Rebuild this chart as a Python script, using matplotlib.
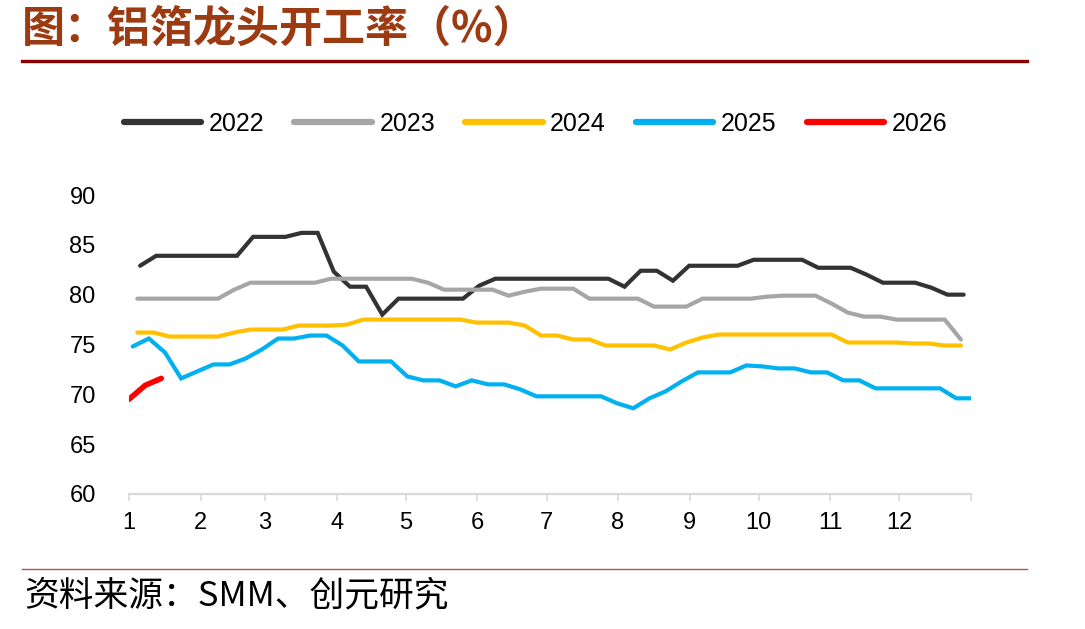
import matplotlib
matplotlib.use('Agg')
import matplotlib.pyplot as plt
import numpy as np
from matplotlib.lines import Line2D

plt.rcParams['font.family'] = ['Liberation Sans', 'DejaVu Sans']

# weekly operating rate (%), x = day of year of each weekly reading
years = ['2022', '2023', '2024', '2025', '2026']
start_day = {'2022': 4.8, '2023': 3.6, '2024': 3.6, '2025': 1.6, '2026': 0.0}

v2022 = [82.9, 83.9, 83.9, 83.9, 83.9, 83.9, 83.9, 85.8, 85.8, 85.8,
         86.2, 86.2, 82.3, 80.8, 80.8, 78.0, 79.6, 79.6, 79.6, 79.6,
         79.6, 80.9, 81.6, 81.6, 81.6, 81.6, 81.6, 81.6, 81.6, 81.6,
         80.8, 82.4, 82.4, 81.4, 82.9, 82.9, 82.9, 82.9, 83.5, 83.5,
         83.5, 83.5, 82.7, 82.7, 82.7, 82.0, 81.2, 81.2, 81.2, 80.7,
         80.0, 80.0]
v2023 = [79.6, 79.6, 79.6, 79.6, 79.6, 79.6, 80.5, 81.2, 81.2, 81.2,
         81.2, 81.2, 81.6, 81.6, 81.6, 81.6, 81.6, 81.6, 81.2, 80.5,
         80.5, 80.5, 80.5, 79.9, 80.3, 80.6, 80.6, 80.6, 79.6, 79.6,
         79.6, 79.6, 78.8, 78.8, 78.8, 79.6, 79.6, 79.6, 79.6, 79.8,
         79.9, 79.9, 79.9, 79.1, 78.2, 77.8, 77.8, 77.5, 77.5, 77.5,
         77.5, 75.5]
v2024 = [76.2, 76.2, 75.8, 75.8, 75.8, 75.8, 76.2, 76.5, 76.5, 76.5,
         76.9, 76.9, 76.9, 77.0, 77.5, 77.5, 77.5, 77.5, 77.5, 77.5,
         77.5, 77.2, 77.2, 77.2, 76.9, 75.9, 75.9, 75.5, 75.5, 74.9,
         74.9, 74.9, 74.9, 74.5, 75.2, 75.7, 76.0, 76.0, 76.0, 76.0,
         76.0, 76.0, 76.0, 76.0, 75.2, 75.2, 75.2, 75.2, 75.1, 75.1,
         74.9, 74.9]
v2025 = [74.8, 75.6, 74.2, 71.6, 72.3, 73.0, 73.0, 73.6, 74.5, 75.6,
         75.6, 75.9, 75.9, 74.9, 73.3, 73.3, 73.3, 71.8, 71.4, 71.4,
         70.8, 71.4, 71.0, 71.0, 70.5, 69.8, 69.8, 69.8, 69.8, 69.8,
         69.1, 68.6, 69.6, 70.3, 71.3, 72.2, 72.2, 72.2, 72.9, 72.8,
         72.6, 72.6, 72.2, 72.2, 71.4, 71.4, 70.6, 70.6, 70.6, 70.6,
         70.6, 69.6, 69.6]
v2026 = [69.5, 70.9, 71.6]

values = {'2022': v2022, '2023': v2023, '2024': v2024, '2025': v2025, '2026': v2026}
colors = {'2022': '#333333', '2023': '#a6a6a6', '2024': '#ffc000',
          '2025': '#00b0f0', '2026': '#ff0000'}
widths = {'2022': 3.0, '2023': 3.0, '2024': 3.0, '2025': 3.0, '2026': 4.0}

month_labels = [str(m) for m in range(1, 13)]
month_start = [0, 31, 59, 90, 120, 151, 181, 212, 243, 273, 304, 334, 365]

fig = plt.figure(figsize=(10.85, 6.29), dpi=100)
ax = fig.add_axes([129 / 1085, 1 - 494 / 629, 842 / 1085, 299 / 629])

for y in years:
    vals = values[y]
    x = start_day[y] + 7 * np.arange(len(vals))
    ax.plot(x, vals, color=colors[y], lw=widths[y], label=y,
            solid_capstyle='round', solid_joinstyle='miter')

ax.set_xlim(0, 365)
ax.set_ylim(60, 90)
ax.set_yticks(range(60, 91, 5))
ax.set_xticks(month_start)
ax.set_xticklabels(month_labels + [''])
for s in ['top', 'right', 'left']:
    ax.spines[s].set_visible(False)
ax.spines['bottom'].set_color('#d9d9d9')
ax.spines['bottom'].set_linewidth(1.6)
ax.tick_params(axis='y', length=0, pad=24, labelsize=17)
ax.tick_params(axis='x', length=5, width=1.2, color='#d9d9d9', pad=8, labelsize=17)

leg = fig.legend(loc='center', bbox_to_anchor=(0.4935, 1 - 124 / 629), ncol=5,
                 frameon=False, fontsize=18, handlelength=3.1, handletextpad=0.3,
                 columnspacing=1.2)
for h in leg.get_lines():
    h.set_linewidth(4.5)
    h.set_solid_capstyle('round')

cjk = ['Noto Sans CJK SC', 'DejaVu Sans']
fig.text(22 / 1085, 1 - 29 / 629, '图：铝箔龙头开工率（%）', family=cjk,
         fontsize=31, fontweight='bold', color='#9c3a12', va='center', ha='left')
fig.add_artist(Line2D([22 / 1085, 1027 / 1085], [1 - 61 / 629] * 2,
                      color='#8b0000', lw=2.4))
fig.add_artist(Line2D([22 / 1085, 1027 / 1085], [1 - 569 / 629] * 2,
                      color='#c0504d', lw=1.0))
fig.text(24 / 1085, 1 - 596 / 629, '资料来源：SMM、创元研究', family=cjk,
         fontsize=25, color='black', va='center', ha='left')

fig.savefig('out.png', dpi=100)
